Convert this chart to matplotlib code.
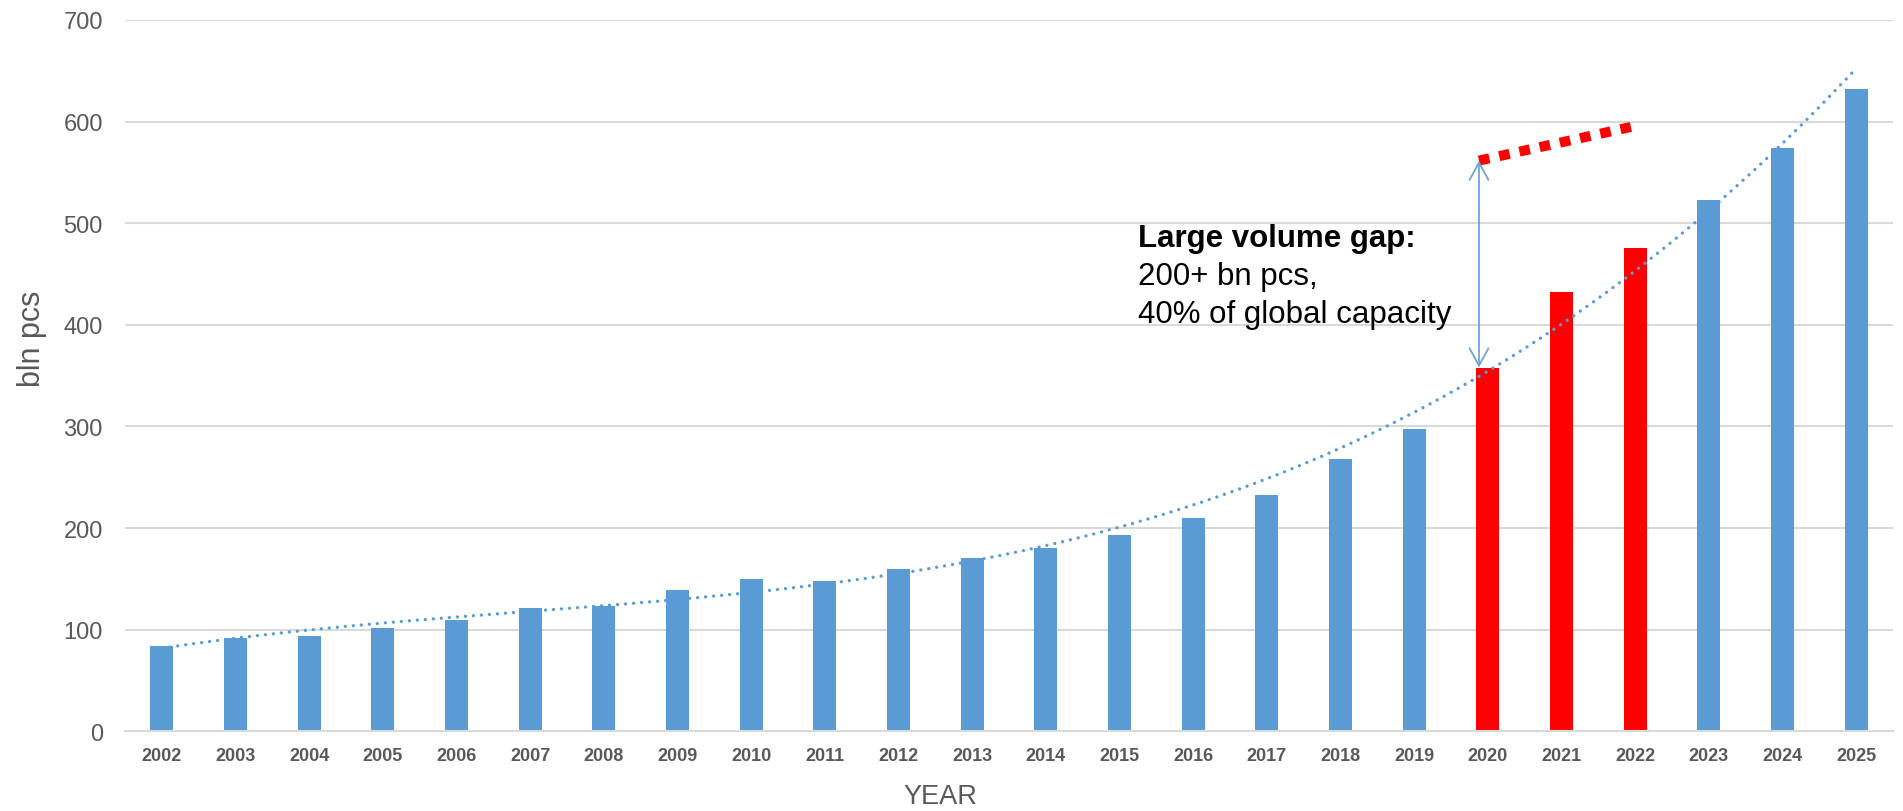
import numpy as np
import matplotlib
matplotlib.use("Agg")
import matplotlib.pyplot as plt
from matplotlib.patches import FancyArrowPatch

# ---- data -------------------------------------------------------------
years = [2002, 2003, 2004, 2005, 2006, 2007, 2008, 2009, 2010, 2011, 2012, 2013,
         2014, 2015, 2016, 2017, 2018, 2019, 2020, 2021, 2022, 2023, 2024, 2025]
volumes = [84, 91.5, 93.5, 101.7, 109.5, 121.3, 123.6, 139.4, 149.6, 147.6, 159.7, 170.6,
           180, 193.5, 209.6, 232.5, 267.7, 297.5, 358, 432.6, 475.3, 522.6, 574.4, 631.8]
highlight_years = [2020, 2021, 2022]

# projected demand line above the highlighted years
gap_years = [2020, 2022]
gap_values = [561.6, 595.7]

gap_title = "Large volume gap:"
gap_lines = ["200+ bn pcs,", "40% of global capacity"]

# ---- style ------------------------------------------------------------
plt.rcParams["font.family"] = ["Liberation Sans", "DejaVu Sans"]
BLUE = "#5B9BD5"
RED = "#FF0000"
GREY_TXT = "#595959"
GRID = "#D9D9D9"

W, H = 1903, 812
fig = plt.figure(figsize=(W / 100, H / 100), dpi=100)
ax = fig.add_axes([125 / W, 1 - 732.3 / H, (1893 - 125) / W, (732.3 - 21) / H])

x = np.arange(len(years))
colors = [RED if y in highlight_years else BLUE for y in years]
ax.bar(x, volumes, width=0.31, color=colors, zorder=2)

# polynomial trend over the whole series
coef = np.polyfit(x, volumes, 3)
xf = np.linspace(x[0], x[-1], 400)
ax.plot(xf, np.polyval(coef, xf), color=BLUE, lw=2.4,
        linestyle=(0, (0.01, 2.4)), dash_capstyle="round", zorder=3)

# projected line and gap arrow
shift = -0.12
gx = [years.index(y) + (shift if i == 0 else 0) for i, y in enumerate(gap_years)]
ax.plot(gx, gap_values, color=RED, lw=7.2, linestyle=(0, (1.07, 1.0)),
        dash_capstyle="butt", solid_capstyle="butt", zorder=4)

i20 = years.index(gap_years[0])
arrow = FancyArrowPatch((i20 + shift, volumes[i20]), (i20 + shift, gap_values[0]),
                        arrowstyle="<->,head_length=1.25,head_width=0.68",
                        mutation_scale=10, color="#6FA3D8", lw=1.3,
                        shrinkA=0, shrinkB=0, zorder=5)
ax.add_patch(arrow)

tx = (1138 - 125) / 1768
ax.text(tx, 0.6827, gap_title, transform=ax.transAxes, fontsize=22.5,
        fontweight="bold", color="black", va="baseline", ha="left")
ax.text(tx, 0.6289, gap_lines[0], transform=ax.transAxes, fontsize=22.5,
        color="black", va="baseline", ha="left")
ax.text(tx, 0.5759, gap_lines[1], transform=ax.transAxes, fontsize=22.5,
        color="black", va="baseline", ha="left")

# ---- axes -------------------------------------------------------------
ax.set_xlim(-0.5, len(years) - 0.5)
ax.set_ylim(0, 700)
ax.set_yticks(range(0, 701, 100))
ax.set_xticks(x)
ax.set_xticklabels([str(y) for y in years], fontsize=13, fontweight="bold", color=GREY_TXT)
ax.tick_params(axis="x", length=0, pad=11)
ax.tick_params(axis="y", length=0, pad=16, labelsize=17, labelcolor=GREY_TXT)

ax.yaxis.grid(True, color=GRID, lw=1.5, zorder=0)
ax.set_axisbelow(True)
for side in ["top", "right", "left"]:
    ax.spines[side].set_visible(False)
ax.spines["bottom"].set_color(GRID)
ax.spines["bottom"].set_linewidth(1.5)

ax.set_ylabel("bln pcs", fontsize=22, color=GREY_TXT)
ax.yaxis.set_label_coords(-0.0441, 0.553)
ax.set_xlabel("YEAR", fontsize=19.5, color=GREY_TXT)
ax.xaxis.set_label_coords(0.461, -0.073)

fig.savefig("out.png", dpi=100, facecolor="white")
